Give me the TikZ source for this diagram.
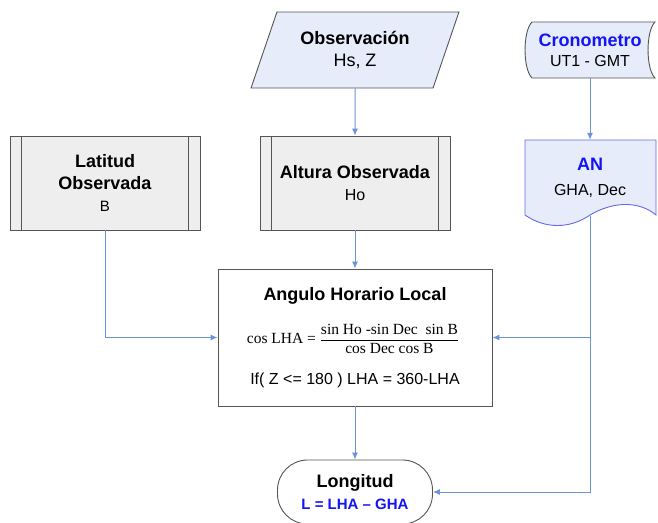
\documentclass[tikz,border=0pt]{standalone}
\usepackage{fontspec}
\setmainfont{Liberation Sans}
\newfontfamily\tmsfont{Liberation Serif}
\usepackage{amsmath}
\usetikzlibrary{arrows.meta,shapes.geometric}
\definecolor{boxline}{RGB}{85,85,85}
\definecolor{flow}{RGB}{105,148,215}
\definecolor{datafill}{RGB}{230,236,250}
\definecolor{procfill}{RGB}{238,238,238}
\definecolor{docline}{RGB}{105,105,230}
\definecolor{keyblue}{RGB}{20,20,245}

\tikzset{
  edge/.style={draw=boxline, line width=0.9pt},
  conn/.style={draw=flow, line width=1pt, -{Latex[length=7pt,width=6pt]}},
  procbox/.style={edge, fill=procfill, minimum width=190pt, minimum height=94pt, align=center},
  big/.style={font=\fontsize{18}{22}\selectfont},
  sub/.style={font=\fontsize{16}{20}\selectfont},
}

\begin{document}
\begin{tikzpicture}[x=1pt, y=-1pt]
  \useasboundingbox (0,0) rectangle (658,522);
  %% 1. Entradas
  \node[trapezium, trapezium left angle=66.5, trapezium right angle=113.5,
        trapezium stretches=true, minimum width=208pt, minimum height=76pt,
        edge, fill=datafill, align=center, big] (obs) at (355,50)
        {\textbf{Observación}\\Hs, Z};

  \draw[edge, fill=datafill] (532,22) -- (655,22)
        .. controls (645.7,31) and (645.7,69) .. (655,78) -- (532,78)
        .. controls (522.7,69) and (522.7,31) .. (532,22) -- cycle;
  \node[minimum width=130pt, minimum height=56pt, align=center, sub] (crono) at (590,50)
        {{\fontsize{18}{20}\selectfont\bfseries\color{keyblue}Cronometro}\\UT1 - GMT};

  \draw[draw=docline, line width=0.9pt, fill=datafill] (525,140) -- (656,140) -- (656,215)
        .. controls (638,200) and (612,202) .. (590,215)
        .. controls (570,229) and (545,229) .. (525,215) -- cycle;
  \node[minimum width=131pt, minimum height=76pt, align=center, sub] (an) at (590,178)
        {{\fontsize{18}{20}\selectfont\bfseries\color{keyblue}AN}\\[5pt]GHA, Dec};

  %% 2. Procesos predefinidos
  \node[procbox, big] (lat) at (105,183)
        {\textbf{Latitud}\\\textbf{Observada}\\{\fontsize{15}{18}\selectfont B}};
  \node[procbox, big] (alt) at (355,183)
        {\textbf{Altura Observada}\\{\fontsize{16}{18}\selectfont Ho}};
  \foreach \n in {lat,alt}{
    \draw[edge] ([xshift=12pt]\n.north west) -- ([xshift=12pt]\n.south west);
    \draw[edge] ([xshift=-12pt]\n.north east) -- ([xshift=-12pt]\n.south east);
  }

  %% 3. Calculo
  \node[edge, fill=white, minimum width=274pt, minimum height=137pt] (ang) at (355,337.5) {};
  \node[big] (angT) at (355,296) {\textbf{Angulo Horario Local}};
  \node[font=\fontsize{15.5}{18}\selectfont\tmsfont] (angF) at (353,339)
        {cos LHA = $\dfrac{\hbox{\tmsfont sin Ho -sin Dec\ \ sin B}}{\hbox{\tmsfont cos Dec cos B}}$};
  \node[sub] (angI) at (355,380) {If( Z <= 180 ) LHA = 360-LHA};

  %% 4. Resultado
  \node[edge, fill=white, rounded corners=30pt, minimum width=155pt, minimum height=64pt,
        align=center, big] (lon) at (355,492)
        {\textbf{Longitud}\\{\fontsize{15}{18}\selectfont\bfseries\color{keyblue}L = LHA – GHA}};

  %% 5. Conectores
  \draw[conn] (obs.south) -- (alt.north);
  \draw[conn] (crono.south) -- (an.north);
  \draw[conn] (alt.south) -- (ang.north);
  \draw[conn] (ang.south) -- (lon.north);
  \draw[conn] (lat.south) |- (ang.west);
  \draw[conn] (an.south) |- (ang.east);
  \draw[conn] (an.south) |- (lon.east);
\end{tikzpicture}
\end{document}
